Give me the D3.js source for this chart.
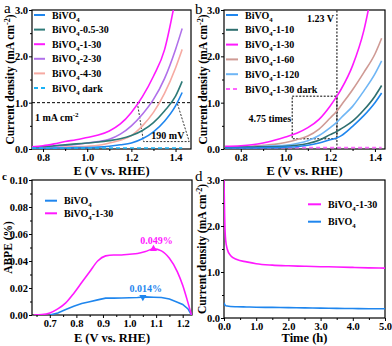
<!DOCTYPE html>
<html>
<head>
<meta charset="utf-8">
<script src="https://cdn.jsdelivr.net/npm/d3@7"></script>
<style>
  body { margin: 0; background: #fff; }
  svg { display: block; }
  text { font-family: "Liberation Serif", "Times New Roman", serif; fill: #000; }
</style>
</head>
<body>
<svg id="fig" width="392" height="346"></svg>
<script>
/********** data **********/

// panel a : LSV of the different ratios
var potA = [0.75, 0.80, 0.85, 0.90, 0.95, 1.00, 1.05, 1.10, 1.15, 1.20, 1.25, 1.30, 1.35, 1.40, 1.43];
var aBiVO4   = [0.01, 0.01, 0.02, 0.02, 0.03, 0.03, 0.04, 0.06, 0.09, 0.13, 0.22, 0.37, 0.60, 0.93, 1.22];
var aR05_30  = [0.04, 0.05, 0.07, 0.09, 0.11, 0.13, 0.15, 0.18, 0.22, 0.29, 0.40, 0.57, 0.82, 1.14, 1.46];
var aR1_30   = [0.05, 0.07, 0.11, 0.16, 0.20, 0.25, 0.30, 0.39, 0.54, 0.79, 1.13, 1.57, 2.14, 3.25, null];
var aR2_30   = [0.04, 0.05, 0.06, 0.08, 0.10, 0.13, 0.16, 0.21, 0.32, 0.50, 0.75, 1.07, 1.52, 2.15, 2.60];
var aR4_30   = [0.02, 0.03, 0.03, 0.04, 0.05, 0.06, 0.08, 0.13, 0.19, 0.29, 0.50, 0.79, 1.20, 1.75, 2.15];
var aDark    = [0.02, 0.02, 0.02, 0.02, 0.02, 0.02, 0.02, 0.02, 0.02, 0.02, 0.02, 0.02, 0.02, 0.02, 0.02];
var aNames   = ["BiVO4", "BiVO4-0.5-30", "BiVO4-1-30", "BiVO4-2-30", "BiVO4-4-30", "BiVO4 dark"];

// panel b : LSV of the different times
var potB = [0.73, 0.80, 0.85, 0.90, 0.95, 1.00, 1.05, 1.10, 1.15, 1.20, 1.23, 1.25, 1.30, 1.35, 1.40, 1.43];
var bBiVO4 = [0.02, 0.02, 0.02, 0.03, 0.03, 0.04, 0.05, 0.08, 0.13, 0.20, 0.24, 0.29, 0.49, 0.72, 1.00, 1.21];
var bT10   = [0.03, 0.04, 0.04, 0.05, 0.05, 0.06, 0.08, 0.12, 0.19, 0.31, 0.38, 0.44, 0.60, 0.84, 1.14, 1.37];
var bT30   = [0.06, 0.07, 0.09, 0.13, 0.19, 0.26, 0.34, 0.46, 0.64, 0.93, 1.14, 1.30, 1.80, 2.55, 3.75, null];
var bT60   = [0.05, 0.05, 0.06, 0.08, 0.10, 0.14, 0.20, 0.28, 0.43, 0.67, 0.82, 0.95, 1.28, 1.65, 2.05, 2.39];
var bT120  = [0.04, 0.04, 0.05, 0.06, 0.07, 0.08, 0.12, 0.18, 0.29, 0.46, 0.58, 0.68, 0.92, 1.25, 1.62, 1.90];
var bDark  = [0.03, 0.03, 0.03, 0.03, 0.03, 0.03, 0.03, 0.03, 0.03, 0.03, 0.03, 0.03, 0.03, 0.03, 0.03, 0.03];

// panel c : ABPE
var potC = [0.64, 0.67, 0.70, 0.73, 0.76, 0.79, 0.82, 0.85, 0.88, 0.91, 0.94, 0.97, 1.00, 1.03, 1.06, 1.09, 1.12, 1.15, 1.18, 1.20, 1.22, 1.233];
var cBiVO4 = [null, null, 0.0, 0.0015, 0.004, 0.0065, 0.0085, 0.0098, 0.0112, 0.0125, 0.0125, 0.0126, 0.0128, 0.013, 0.0134, 0.0132, 0.013, 0.0118, 0.0095, 0.0078, 0.0045, 0.0];
var cR1_30 = [0.0, 0.0003, 0.0015, 0.0045, 0.009, 0.016, 0.024, 0.032, 0.040, 0.0438, 0.0445, 0.0445, 0.045, 0.0455, 0.047, 0.049, 0.0475, 0.042, 0.032, 0.022, 0.009, 0.0];
var cPeaks = [{ e: 1.05, v: 0.0133, label: "0.014%" }, { e: 1.09, v: 0.049, label: "0.049%" }];

// panel d : stability
var timeD = [0, 0.02, 0.05, 0.1, 0.2, 0.4, 0.7, 1.0, 1.5, 2.0, 2.5, 3.0, 3.5, 4.0, 4.5, 5.0];
var dR1_30 = [3.0, 2.2, 1.7, 1.5, 1.36, 1.27, 1.22, 1.18, 1.15, 1.135, 1.125, 1.115, 1.11, 1.10, 1.09, 1.085];
var dBiVO4 = [0.33, 0.29, 0.27, 0.26, 0.25, 0.245, 0.24, 0.235, 0.23, 0.225, 0.22, 0.215, 0.21, 0.205, 0.2, 0.2];

var tickA = [0.8, 1.0, 1.2, 1.4];
var tickJ = [0, 1, 2, 3];
var tickC = [0.7, 0.8, 0.9, 1.0, 1.1, 1.2];
var tickCy = [0, 0.02, 0.04, 0.06, 0.08, 0.10];
var tickD = [0, 1, 2, 3, 4, 5];

/********** helpers **********/

var svg = d3.select("#fig");
var FS_TICK = 10.5, FS_TITLE = 12.5, FS_LEG = 10;

// "BiVO4-1-30" -> parts, the 4 goes subscript
function richText(sel, str, size) {
    var m = str.match(/^(BiVO)4(.*)$/);
    var parts = m ? [[m[1], 0], ["4", 1], [m[2], 0]] : [[str, 0]];
    var shift = 0;
    parts.forEach(function (p) {
        if (!p[0]) return;
        var dy = 0;
        if (p[1] === 1 && shift === 0) { dy = 3; shift = 3; }
        else if (p[1] === 0 && shift !== 0) { dy = -shift; shift = 0; }
        sel.append("tspan").attr("dy", dy).attr("font-size", p[1] ? size * 0.68 : size).text(p[0]);
    });
}

function jTitle(sel) {
    sel.append("tspan").text("Current density (mA cm");
    sel.append("tspan").attr("dy", -4).attr("font-size", FS_TITLE * 0.65).text("-2");
    sel.append("tspan").attr("dy", 4).text(")");
}

function makePanel(id, box, xDom, yDom, xTicks, yTicks, fx, fy, minorX, minorY) {
    var g = svg.append("g").attr("class", "panel-" + id);
    var x = d3.scaleLinear().domain(xDom).range([box.l, box.r]);
    var y = d3.scaleLinear().domain(yDom).range([box.b, box.t]);

    g.append("clipPath").attr("id", "clip-" + id)
        .append("rect").attr("x", box.l).attr("y", box.t)
        .attr("width", box.r - box.l).attr("height", box.b - box.t);

    var ax = g.append("g").attr("transform", "translate(0," + box.b + ")")
        .call(d3.axisBottom(x).tickValues(xTicks).tickSize(3).tickPadding(2).tickFormat(d3.format(fx)));
    var ay = g.append("g").attr("transform", "translate(" + box.l + ",0)")
        .call(d3.axisLeft(y).tickValues(yTicks).tickSize(3).tickPadding(1).tickFormat(d3.format(fy)));
    g.append("g").attr("transform", "translate(0," + box.b + ")")
        .call(d3.axisBottom(x).tickValues(minorX).tickSize(2).tickFormat(""));
    g.append("g").attr("transform", "translate(" + box.l + ",0)")
        .call(d3.axisLeft(y).tickValues(minorY).tickSize(2).tickFormat(""));

    g.selectAll(".domain").remove();
    g.selectAll(".tick line").attr("stroke", "#000").attr("stroke-width", 1);
    [ax, ay].forEach(function (a) {
        a.selectAll("text").attr("font-size", FS_TICK).attr("font-weight", "bold")
            .attr("font-family", "Liberation Serif, serif").attr("fill", "#000");
    });

    g.append("rect").attr("x", box.l).attr("y", box.t)
        .attr("width", box.r - box.l).attr("height", box.b - box.t)
        .attr("fill", "none").attr("stroke", "#000").attr("stroke-width", 1.2);

    var plot = g.append("g").attr("clip-path", "url(#clip-" + id + ")");
    return { g: g, plot: plot, x: x, y: y, box: box };
}

function drawLine(p, xs, ys, color, dash, curve, width) {
    var pts = xs.map(function (v, i) { return [v, ys[i]]; });
    var line = d3.line()
        .defined(function (d) { return d[1] !== null; })
        .x(function (d) { return p.x(d[0]); })
        .y(function (d) { return p.y(d[1]); })
        .curve(curve || d3.curveMonotoneX);
    p.plot.append("path").datum(pts)
        .attr("d", line).attr("fill", "none")
        .attr("stroke", color).attr("stroke-width", width || 1.6)
        .attr("stroke-dasharray", dash || null);
}

function legend(p, items, x1, x2, y0, dy) {
    items.forEach(function (it, i) {
        var yy = y0 + i * dy;
        p.g.append("line").attr("x1", x1).attr("x2", x2).attr("y1", yy).attr("y2", yy)
            .attr("stroke", it.color).attr("stroke-width", 2)
            .attr("stroke-dasharray", it.dash || null);
        var t = p.g.append("text").attr("x", x2 + 7).attr("y", yy + 3.5)
            .attr("font-size", FS_LEG).attr("font-weight", "bold");
        richText(t, it.name, FS_LEG);
    });
}

// yTitleX is the baseline of the rotated title, glyphs sit to its left
function titles(p, xText, yFn, xTitleY, yTitleX) {
    var b = p.box;
    p.g.append("text").attr("x", (b.l + b.r) / 2).attr("y", xTitleY)
        .attr("text-anchor", "middle").attr("font-size", FS_TITLE).attr("font-weight", "bold")
        .text(xText);
    var t = p.g.append("text")
        .attr("transform", "translate(" + yTitleX + "," + (b.t + b.b) / 2 + ") rotate(-90)")
        .attr("text-anchor", "middle").attr("font-size", FS_TITLE - 1).attr("font-weight", "bold");
    yFn(t);
}

function letter(txt, x, y, size, bold) {
    svg.append("text").attr("x", x).attr("y", y).attr("font-size", size)
        .attr("font-weight", bold ? "bold" : "normal").text(txt);
}

/********** panel a **********/

var colA = ["#1f86ee", "#2e7a78", "#ff19ff", "#b070ea", "#f6aaa2", "#1ab2f6"];
var pa = makePanel("a", { l: 32, r: 191, t: 10, b: 149 }, [0.75, 1.47], [0, 3],
    tickA, tickJ, ".1f", ".1f", [0.9, 1.1, 1.3], [0.5, 1.5, 2.5]);

pa.plot.append("line").attr("x1", pa.x(0.75)).attr("x2", pa.x(1.47))
    .attr("y1", pa.y(1)).attr("y2", pa.y(1))
    .attr("stroke", "#000").attr("stroke-width", 1).attr("stroke-dasharray", "3,2");

// 190 mV bracket
var brA = [[1.227, 1.0], [1.255, 0.16], [1.462, 0.16], [1.407, 1.0]];
pa.plot.append("path")
    .attr("d", d3.line().x(function (d) { return pa.x(d[0]); }).y(function (d) { return pa.y(d[1]); })(brA))
    .attr("fill", "none").attr("stroke", "#333").attr("stroke-width", 1).attr("stroke-dasharray", "2,1.5");

[aR4_30, aR2_30, aR05_30, aBiVO4, aR1_30].forEach(function (s) {
    var idx = [aBiVO4, aR05_30, aR1_30, aR2_30, aR4_30].indexOf(s);
    drawLine(pa, potA, s, colA[idx]);
});
drawLine(pa, potA, aDark, colA[5], "4,3", d3.curveLinear, 1.6);

pa.g.append("text").attr("x", 35).attr("y", 121).attr("font-size", FS_LEG).attr("font-weight", "bold")
    .call(function (t) {
        t.append("tspan").text("1 mA cm");
        t.append("tspan").attr("dy", -4).attr("font-size", 7).text("-2");
    });
pa.g.append("text").attr("x", pa.x(1.44)).attr("y", 139).attr("text-anchor", "end")
    .attr("font-size", FS_LEG).attr("font-weight", "bold").text("190 mV");

legend(pa, aNames.map(function (n, i) { return { name: n, color: colA[i], dash: i === 5 ? "4,3" : null }; }),
    34, 45, 15, 14.6);
titles(pa, "E (V vs. RHE)", jTitle, 175, 14);
letter("a", 4, 13, 15, false);

/********** panel b **********/

var colB = ["#1f86ee", "#2e6e6e", "#ff19ff", "#cf9a94", "#6fb6f5", "#ff66ff"];
var namesB = ["BiVO4", "BiVO4-1-10", "BiVO4-1-30", "BiVO4-1-60", "BiVO4-1-120", "BiVO4-1-30  dark"];
var pb = makePanel("b", { l: 224, r: 385, t: 10, b: 149 }, [0.725, 1.445], [0, 3],
    tickA, tickJ, ".1f", ".1f", [0.9, 1.1, 1.3], [0.5, 1.5, 2.5]);

pb.plot.append("line").attr("x1", pb.x(1.23)).attr("x2", pb.x(1.23))
    .attr("y1", pb.y(0)).attr("y2", pb.y(3))
    .attr("stroke", "#000").attr("stroke-width", 1).attr("stroke-dasharray", "2,1.5");
pb.plot.append("rect").attr("x", pb.x(1.03)).attr("y", pb.y(1.14))
    .attr("width", pb.x(1.23) - pb.x(1.03)).attr("height", pb.y(0.22) - pb.y(1.14))
    .attr("fill", "none").attr("stroke", "#000").attr("stroke-width", 1).attr("stroke-dasharray", "2,1.5");

[bDark].forEach(function (s) { drawLine(pb, potB, s, colB[5], "4,3", d3.curveLinear); });
[bT60, bT120, bT10, bBiVO4, bT30].forEach(function (s) {
    var idx = [bBiVO4, bT10, bT30, bT60, bT120].indexOf(s);
    drawLine(pb, potB, s, colB[idx]);
});

pb.g.append("text").attr("x", pb.x(1.23) - 3).attr("y", 22).attr("text-anchor", "end")
    .attr("font-size", FS_LEG).attr("font-weight", "bold").text("1.23 V");
pb.g.append("text").attr("x", pb.x(1.03) - 1).attr("y", 122).attr("text-anchor", "end")
    .attr("font-size", FS_LEG).attr("font-weight", "bold").text("4.75 times");

legend(pb, namesB.map(function (n, i) { return { name: n, color: colB[i], dash: i === 5 ? "4,3" : null }; }),
    226, 238, 15, 14.8);
titles(pb, "E (V vs. RHE)", jTitle, 175, 207);
letter("b", 195, 14, 15, false);

/********** panel c **********/

var pc = makePanel("c", { l: 32, r: 192, t: 180, b: 315 }, [0.633, 1.235], [0, 0.1],
    tickC, tickCy, ".1f", ".2f", [0.65, 0.75, 0.85, 0.95, 1.05, 1.15], [0.01, 0.03, 0.05, 0.07, 0.09]);

drawLine(pc, potC, cBiVO4, "#1f86ee", null, d3.curveLinear);
drawLine(pc, potC, cR1_30, "#ff19ff", null, d3.curveMonotoneX);

var peakCol = ["#1f86ee", "#ff19ff"];
cPeaks.forEach(function (pk, i) {
    pc.g.append("path")
        .attr("d", d3.symbol().type(d3.symbolTriangle).size(22)())
        .attr("transform", "translate(" + pc.x(pk.e) + "," + pc.y(pk.v) + ")" + (i === 0 ? " rotate(180)" : ""))
        .attr("fill", peakCol[i]);
    pc.g.append("text").attr("x", pc.x(pk.e) + 3).attr("y", pc.y(pk.v) - 5)
        .attr("text-anchor", "middle").attr("font-size", FS_LEG).attr("font-weight", "bold")
        .style("fill", peakCol[i]).text(pk.label);
});

legend(pc, [{ name: "BiVO4", color: "#1f86ee" }, { name: "BiVO4-1-30", color: "#ff19ff" }], 45, 57, 200.7, 12.6);
titles(pc, "E (V vs. RHE)", function (t) { t.text("ABPE (%)"); }, 342, 12);
letter("c", 2, 180, 11, true);

/********** panel d **********/

var pd = makePanel("d", { l: 224, r: 385, t: 180, b: 318 }, [0, 5], [0, 3],
    tickD, tickJ, ".1f", ".1f", [0.5, 1.5, 2.5, 3.5, 4.5], [0.5, 1.5, 2.5]);

drawLine(pd, timeD, dBiVO4, "#1f86ee", null, d3.curveMonotoneX);
drawLine(pd, timeD, dR1_30, "#ff19ff", null, d3.curveMonotoneX);

legend(pd, [{ name: "BiVO4-1-30", color: "#ff19ff" }, { name: "BiVO4", color: "#1f86ee" }], 308, 321, 204.3, 17.4);
titles(pd, "Time (h)", jTitle, 342, 206);
letter("d", 195, 181, 15, false);
</script>
</body>
</html>
